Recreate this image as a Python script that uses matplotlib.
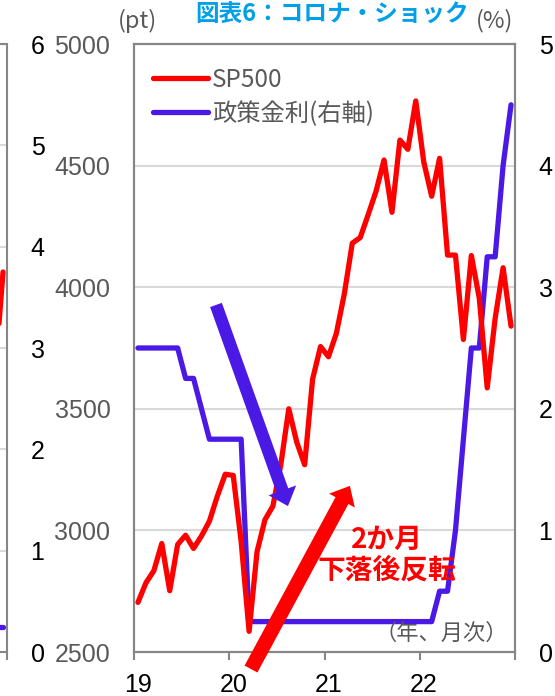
import matplotlib.pyplot as plt
from matplotlib.lines import Line2D

plt.rcParams['font.family'] = ['Liberation Sans', 'Noto Sans CJK JP']

# monthly data, Jan 2019 .. Dec 2022
sp500 = [2704, 2784, 2834, 2946, 2752, 2942, 2980, 2926, 2977, 3038, 3141, 3231,
         3226, 2954, 2585, 2912, 3044, 3100, 3271, 3500, 3363, 3270, 3622, 3756,
         3714, 3811, 3973, 4181, 4204, 4298, 4395, 4523, 4308, 4605, 4567, 4766,
         4516, 4374, 4530, 4132, 4132, 3785, 4130, 3955, 3586, 3872, 4080, 3840]
policy_rate = [2.5, 2.5, 2.5, 2.5, 2.5, 2.5, 2.25, 2.25, 2.0, 1.75, 1.75, 1.75,
               1.75, 1.75, 0.25, 0.25, 0.25, 0.25, 0.25, 0.25, 0.25, 0.25, 0.25, 0.25,
               0.25, 0.25, 0.25, 0.25, 0.25, 0.25, 0.25, 0.25, 0.25, 0.25, 0.25, 0.25,
               0.25, 0.25, 0.5, 0.5, 1.0, 1.75, 2.5, 2.5, 3.25, 3.25, 4.0, 4.5]
year_labels = ['19', '20', '21', '22']
left_ticks = [2500, 3000, 3500, 4000, 4500, 5000]
right_ticks = [0, 1, 2, 3, 4, 5]

# tail end of the neighbouring chart (cut off on the left)
prev_months = [46, 47]
prev_red = [2.75, 3.75]
prev_blue = [0.25, 0.25]
prev_ticks = [0, 1, 2, 3, 4, 5, 6]

RED = '#FF0000'
BLUE = '#4B19E6'
GRAY = '#595959'
SPINE = '#868686'
GRID = '#D9D9D9'

W, H = 555, 696
fig = plt.figure(figsize=(W / 100, H / 100), dpi=100)
L, R, T, B = 134, 515, 44, 652
rect = [L / W, 1 - B / H, (R - L) / W, (B - T) / H]

# --- neighbouring chart fragment ---
ax0 = fig.add_axes([(7 - (R - L)) / W, 1 - B / H, (R - L) / W, (B - T) / H])
ax0.plot([m + 0.5 for m in prev_months], prev_blue, color=BLUE, lw=3.8,
         solid_capstyle='round')
ax0.plot([m + 0.5 for m in prev_months], prev_red, color=RED, lw=3.8,
         solid_capstyle='round')
ax0.set_xlim(0, 48)
ax0.set_ylim(0, 6)
ax0.set_yticks(prev_ticks)
ax0.yaxis.tick_right()
ax0.tick_params(axis='y', length=0, pad=17, labelsize=18, labelcolor='black')
ax0.set_xticks([])
ax0.set_xticks([48], minor=True)
ax0.tick_params(axis='x', which='minor', length=6, width=1.5, color=SPINE)
ax0.grid(axis='y', color=GRID, lw=1.5)
ax0.set_axisbelow(True)
for s in ax0.spines.values():
    s.set_color(SPINE)
    s.set_linewidth(1.5)

# --- main chart ---
ax = fig.add_axes(rect)
ax2 = ax.twinx()
ax.set_zorder(ax2.get_zorder() + 1)
ax.patch.set_visible(False)

x = [i + 0.5 for i in range(len(sp500))]
ax2.plot(x, policy_rate, color=BLUE, lw=3.8, solid_capstyle='round',
         solid_joinstyle='round')
ax.plot(x, sp500, color=RED, lw=3.8, solid_capstyle='round',
        solid_joinstyle='round')

ax.set_xlim(0, 48)
ax.set_ylim(2500, 5000)
ax2.set_ylim(0, 5)
ax.set_yticks(left_ticks)
ax2.set_yticks(right_ticks)
ax.tick_params(axis='y', length=0, pad=17, labelsize=18, labelcolor=GRAY)
ax2.tick_params(axis='y', length=0, pad=17, labelsize=18, labelcolor='black')
ax2.grid(axis='y', color=GRID, lw=1.5)
ax2.set_axisbelow(True)

ax.set_xticks([i * 12 + 0.5 for i in range(len(year_labels))])
ax.set_xticklabels(year_labels)
ax.set_xticks([0, 12, 24, 36, 48], minor=True)
ax.tick_params(axis='x', which='major', length=0, pad=15, labelsize=18)
ax.tick_params(axis='x', which='minor', length=6, width=1.5, color=SPINE)

for a in (ax, ax2):
    for s in a.spines.values():
        s.set_color(SPINE)
        s.set_linewidth(1.5)

handles = [Line2D([], [], color=RED, lw=3.8, solid_capstyle='round'),
           Line2D([], [], color=BLUE, lw=3.8, solid_capstyle='round')]
ax.legend(handles, ['SP500', '政策金利(右軸)'], loc='upper left',
          bbox_to_anchor=((153 - L) / (R - L), (B - 67) / (B - T)),
          frameon=False, prop={'family': 'Noto Sans CJK JP', 'size': 17.5},
          labelcolor=GRAY, handlelength=2.25, handletextpad=0.18,
          labelspacing=0.32, borderpad=0, borderaxespad=0)

# arrows
ax.annotate('', xy=(19.4, 3100), xytext=(10.33, 3927),
            arrowprops=dict(width=9, headwidth=21, headlength=12, shrink=0,
                            facecolor=BLUE, edgecolor='none'),
            annotation_clip=False)
ax.annotate('', xy=(27.2, 3183), xytext=(14.74, 2430),
            arrowprops=dict(width=10.5, headwidth=21, headlength=12, shrink=0,
                            facecolor=RED, edgecolor='none'),
            annotation_clip=False)

ax.text(31.9, 2898, '2か月\n下落後反転', color=RED, fontsize=20,
        fontweight='bold', ha='center', va='center', linespacing=1.1,
        family='Noto Sans CJK JP')
ax.text(38.7, 2578, '（年、月次）', color=GRAY, fontsize=16, ha='center',
        va='center', family='Noto Sans CJK JP')

fig.text(138 / W, 1 - 21 / H, '(pt)', color=GRAY, fontsize=17, ha='center',
         va='center', family='Noto Sans CJK JP')
fig.text(195 / W, 1 - 15 / H, '図表6：コロナ・ショック', color='#00A0E9',
         fontsize=17, fontweight='bold', ha='left', va='center',
         family='Noto Sans CJK JP')
fig.text(495 / W, 1 - 21 / H, '(%)', color=GRAY, fontsize=17, ha='center',
         va='center', family='Noto Sans CJK JP')

fig.savefig('out.png', dpi=100)
